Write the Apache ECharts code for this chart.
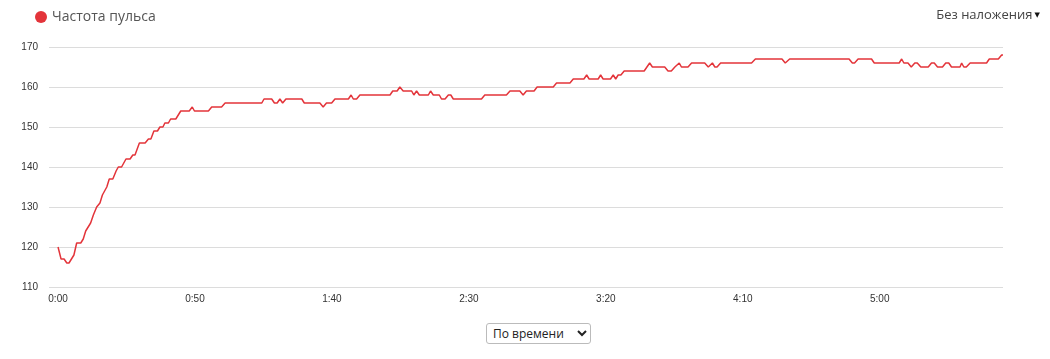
<!DOCTYPE html>
<html>
<head>
<meta charset="utf-8">
<script src="https://cdn.jsdelivr.net/npm/echarts@6/dist/echarts.min.js"></script>
<style>
  html, body { margin: 0; padding: 0; background: #fff; }
  #chart { position: absolute; left: 0; top: 0; width: 1050px; height: 359px; }
  #mode { position: absolute; left: 486px; top: 323px; width: 105px; height: 21px;
          font: 12px "Open Sans", sans-serif; color: #222; background: #fff;
          border: 1px solid #bbb; border-radius: 3px; padding: 0 2px; }
</style>
</head>
<body>
<div id="chart"></div>
<select id="mode"><option>По времени</option></select>
<script>
const seriesName = 'Частота пульса';
const overlayLabel = 'Без наложения';
const xTickValues = [0, 50, 100, 150, 200, 250, 300];
const yTickValues = [110, 120, 130, 140, 150, 160, 170];
const times = [0,1.1,2.2,3.2,4,5.8,6.8,8.3,9.2,10.1,11.9,12.9,14.1,15.3,16.2,17.8,18.7,20,21.2,22,23.2,24.8,26.3,27.3,28.1,29.7,31.8,33,33.9,35,36.3,37.2,38.3,39,40.3,41.1,43,44.8,47.9,49,49.8,54.9,56.1,59.7,61,74.4,75.2,78,79,80,81,82,83.2,89,89.9,95.6,96.8,98,99.9,101.1,106,107,107.8,109,110.2,121.2,122.2,123.8,124.8,126,129.1,129.9,130.9,131.9,135.2,136,137,139.2,140,141.3,142.5,143.4,144.3,154.6,155.8,163.7,165,168.6,169.8,171,173.8,174.9,180.8,182,186.9,188.1,192,193,193.9,197.2,198.1,199,201.7,202.7,203.6,204.5,205.5,206.7,214,216,217,221.5,222.7,223.9,225.2,225.9,226.8,227.6,230,231.3,236.1,237.4,238,238.9,239.8,240.6,241.9,253.2,254.6,264.3,265.5,267.1,288.8,290,290.8,292.1,297,298,307.1,308,308.8,310.3,311.5,312.8,313.7,315,317.7,318.9,319.9,321.1,322.9,324.1,325.2,326.2,329.3,329.9,330.7,331.6,333,339,340,343.3,344.5,345];
const heartRate = [120,117,117,116,116,118,121,121,122,124,126,128,130,131,133,135,137,137,139,140,140,142,142,143,143,146,146,147,147,149,149,150,150,151,151,152,152,154,154,155,154,154,155,155,156,156,157,157,156,156,157,156,157,157,156,156,155,156,156,157,157,158,157,157,158,158,159,159,160,159,159,158,159,158,158,159,158,158,157,157,158,158,157,157,158,158,159,159,158,159,159,160,160,161,161,162,162,163,162,162,163,162,162,163,162,163,163,164,164,166,165,165,164,164,165,165,166,165,165,166,166,165,165,166,165,165,166,166,167,167,166,167,167,166,166,167,167,166,166,167,166,166,165,166,166,165,165,166,166,165,165,166,166,165,165,166,165,165,166,166,167,167,168,168];

const fmt = v => Math.floor(v / 60) + ':' + String(v % 60).padStart(2, '0');
const chart = echarts.init(document.getElementById('chart'), null, { renderer: 'canvas' });
chart.setOption({
  animation: false,
  color: ['#e3343a'],
  legend: {
    data: [{ name: seriesName, icon: 'circle' }],
    left: 30, top: 5, itemWidth: 12, itemHeight: 12, itemGap: 6,
    textStyle: { fontFamily: 'Open Sans', fontSize: 14, color: '#555' }
  },
  graphic: [{
    type: 'text', right: 10, top: 9,
    style: {
      text: '{a|' + overlayLabel + '}{b| ▼}',
      rich: {
        a: { fontFamily: 'Open Sans', fontSize: 13, fill: '#444' },
        b: { fontFamily: 'DejaVu Sans', fontSize: 7, fill: '#111' }
      }
    }
  }],
  grid: { left: 49, right: 47, top: 47, bottom: 72, containLabel: false },
  xAxis: {
    type: 'value', min: -3.3, max: 345,
    axisLine: { show: false }, axisTick: { show: false }, splitLine: { show: false },
    axisLabel: {
      customValues: xTickValues, formatter: fmt, margin: 7,
      fontFamily: 'Liberation Sans', fontSize: 10, color: '#333', showMinLabel: true
    }
  },
  yAxis: {
    type: 'value', min: 110, max: 170, interval: 10,
    axisLine: { show: false }, axisTick: { show: false },
    splitLine: { lineStyle: { color: '#dcdcdc', width: 1 } },
    axisLabel: { margin: 11, fontFamily: 'Liberation Sans', fontSize: 10, color: '#333' }
  },
  series: [{
    name: seriesName, type: 'line', showSymbol: false, symbol: 'none', smooth: false,
    lineStyle: { width: 1.5, color: '#e3343a' },
    data: times.map((t, i) => [t, heartRate[i]])
  }]
});
</script>
</body>
</html>
